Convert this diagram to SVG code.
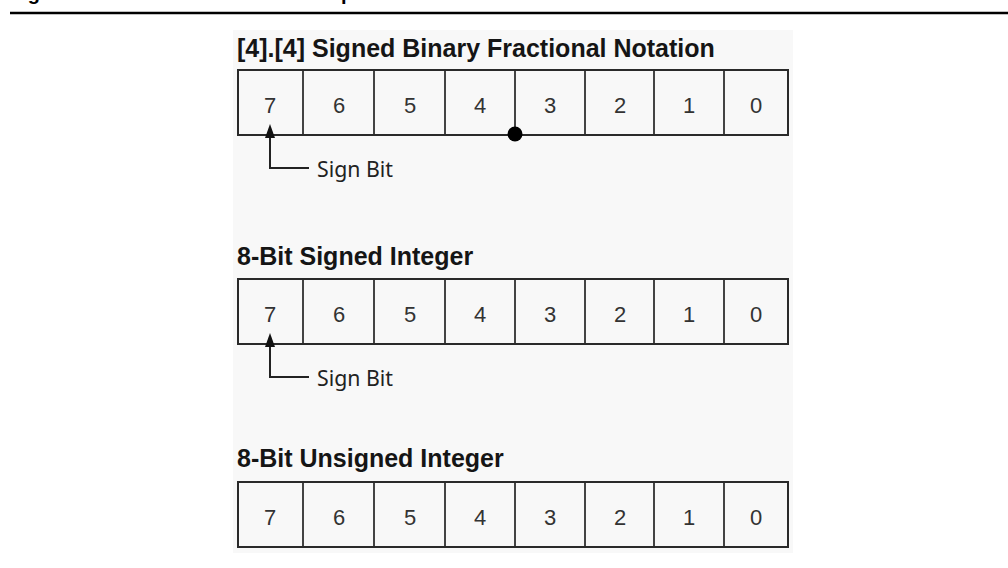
<svg xmlns="http://www.w3.org/2000/svg" width="1008" height="568" viewBox="0 0 1008 568">
<style>
.title{font-family:"Liberation Sans",Arial,sans-serif;font-weight:bold;font-size:25px;fill:#151515}
.dig{font-family:"Liberation Sans",Arial,sans-serif;font-size:22px;fill:#333;text-anchor:middle}
.lbl{font-family:"Noto Sans","DejaVu Sans",sans-serif;font-size:22px;fill:#222}
.box{fill:none;stroke:#2a2a2a;stroke-width:2}
.div{stroke:#444;stroke-width:2}
.ln{stroke:#222;stroke-width:2;fill:none}
.clip{font-family:"Liberation Sans",Arial,sans-serif;font-weight:bold;font-size:20px;fill:#000}
</style>
<defs>
<g id="cells">
<line class="div" x1="303" y1="0" x2="303" y2="65"/>
<line class="div" x1="374" y1="0" x2="374" y2="65"/>
<line class="div" x1="445" y1="0" x2="445" y2="65"/>
<line class="div" x1="515" y1="0" x2="515" y2="65"/>
<line class="div" x1="585" y1="0" x2="585" y2="65"/>
<line class="div" x1="654" y1="0" x2="654" y2="65"/>
<line class="div" x1="724" y1="0" x2="724" y2="65"/>
<rect class="box" x="238" y="0" width="550" height="65"/>
<text class="dig" x="270" y="43">7</text>
<text class="dig" x="339" y="43">6</text>
<text class="dig" x="410" y="43">5</text>
<text class="dig" x="480" y="43">4</text>
<text class="dig" x="550" y="43">3</text>
<text class="dig" x="620" y="43">2</text>
<text class="dig" x="689" y="43">1</text>
<text class="dig" x="756" y="43">0</text>
</g>
<g id="sign">
<path class="ln" d="M270,0 V33 H309"/>
<path d="M270,-11 L265,3 L275,3 Z" fill="#111"/>
<text class="lbl" x="317" y="42" textLength="76" lengthAdjust="spacingAndGlyphs">Sign Bit</text>
</g>
</defs>
<rect x="0" y="0" width="1008" height="568" fill="#fff"/>
<rect x="233" y="30" width="560" height="523" fill="#f8f8f8"/>
<text class="clip" x="10" y="0">Figure</text>
<text class="clip" x="341" y="0">p</text>
<line x1="10" y1="13" x2="1008" y2="13" stroke="#000" stroke-width="2.5"/>

<g id="node-fractional">
<text class="title" x="237" y="57">[4].[4] Signed Binary Fractional Notation</text>
<use href="#cells" transform="translate(0,70)"/>
</g>
<g id="node-signed">
<text class="title" x="237" y="265">8-Bit Signed Integer</text>
<use href="#cells" transform="translate(0,279)"/>
</g>
<g id="node-unsigned">
<text class="title" x="237" y="467">8-Bit Unsigned Integer</text>
<use href="#cells" transform="translate(0,482)"/>
</g>
<g id="connectors">
<circle cx="515" cy="134" r="7.5" fill="#000"/>
<use href="#sign" transform="translate(0,135)"/>
<use href="#sign" transform="translate(0,344)"/>
</g>
</svg>
